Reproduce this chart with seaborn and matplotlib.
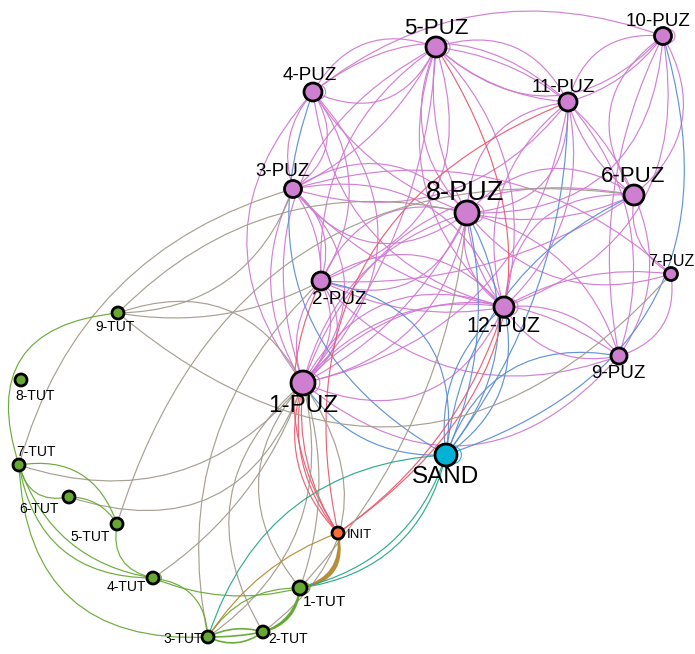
import matplotlib
matplotlib.use("Agg")
import matplotlib.pyplot as plt
from matplotlib.patches import FancyArrowPatch, Circle
import seaborn as sns
import pandas as pd

# ---------------- data ----------------
node_names = ["1-PUZ", "2-PUZ", "3-PUZ", "4-PUZ", "5-PUZ", "6-PUZ", "7-PUZ", "8-PUZ",
              "9-PUZ", "10-PUZ", "11-PUZ", "12-PUZ", "SAND", "INIT",
              "1-TUT", "2-TUT", "3-TUT", "4-TUT", "5-TUT", "6-TUT", "7-TUT", "8-TUT", "9-TUT"]
node_x = [303, 321, 293, 313, 436, 634, 671, 467, 619, 663, 568, 504, 446, 338,
          300, 263, 208, 153, 117, 69, 19, 21, 118]
node_y = [383, 281, 189, 92, 47, 195, 274, 213, 356, 36, 102, 307, 455, 533,
          588, 632, 637, 578, 524, 497, 465, 380, 313]
node_group = ["PUZ"] * 12 + ["SAND", "INIT"] + ["TUT"] * 9
node_weight = [12, 9, 8.5, 9, 10, 10, 6.5, 12, 8, 8.5, 9, 10, 11, 6,
               7, 6, 6, 6, 6, 6, 6, 6, 6]

edge_src = [
    # puzzle - puzzle
    "1-PUZ", "1-PUZ", "1-PUZ", "1-PUZ", "1-PUZ", "1-PUZ", "1-PUZ", "1-PUZ", "1-PUZ",
    "2-PUZ", "2-PUZ", "2-PUZ", "2-PUZ", "2-PUZ", "2-PUZ", "2-PUZ",
    "3-PUZ", "3-PUZ", "3-PUZ", "3-PUZ", "3-PUZ", "3-PUZ",
    "4-PUZ", "4-PUZ", "4-PUZ", "4-PUZ", "4-PUZ",
    "5-PUZ", "5-PUZ", "5-PUZ", "5-PUZ", "5-PUZ",
    "8-PUZ", "8-PUZ", "8-PUZ", "8-PUZ", "8-PUZ", "8-PUZ",
    "11-PUZ", "11-PUZ", "11-PUZ", "11-PUZ",
    "10-PUZ", "10-PUZ", "10-PUZ",
    "6-PUZ", "6-PUZ", "6-PUZ", "7-PUZ", "7-PUZ", "12-PUZ",
    # sandbox - puzzle
    "SAND", "SAND", "SAND", "SAND", "SAND", "SAND", "SAND", "SAND", "SAND",
    # init - puzzle
    "INIT", "INIT", "INIT", "INIT", "INIT",
    # tutorial - puzzle / sandbox
    "9-TUT", "9-TUT", "9-TUT", "9-TUT", "9-TUT", "7-TUT", "7-TUT", "6-TUT", "5-TUT",
    "4-TUT", "3-TUT", "3-TUT", "2-TUT", "1-TUT", "1-TUT", "1-TUT",
    # tutorial - tutorial
    "9-TUT", "7-TUT", "7-TUT", "7-TUT", "7-TUT", "6-TUT", "5-TUT", "4-TUT", "4-TUT",
    "3-TUT", "3-TUT", "2-TUT",
    # init - tutorial
    "INIT", "INIT",
    # sandbox - tutorial
    "SAND", "SAND",
]
edge_dst = [
    "2-PUZ", "3-PUZ", "4-PUZ", "5-PUZ", "8-PUZ", "11-PUZ", "12-PUZ", "9-PUZ", "6-PUZ",
    "3-PUZ", "4-PUZ", "5-PUZ", "8-PUZ", "12-PUZ", "6-PUZ", "9-PUZ",
    "4-PUZ", "8-PUZ", "12-PUZ", "5-PUZ", "11-PUZ", "7-PUZ",
    "5-PUZ", "11-PUZ", "8-PUZ", "12-PUZ", "10-PUZ",
    "10-PUZ", "11-PUZ", "8-PUZ", "12-PUZ", "6-PUZ",
    "11-PUZ", "6-PUZ", "12-PUZ", "7-PUZ", "9-PUZ", "10-PUZ",
    "10-PUZ", "6-PUZ", "12-PUZ", "9-PUZ",
    "6-PUZ", "12-PUZ", "9-PUZ",
    "7-PUZ", "9-PUZ", "12-PUZ", "9-PUZ", "12-PUZ", "9-PUZ",
    "1-PUZ", "2-PUZ", "4-PUZ", "8-PUZ", "12-PUZ", "6-PUZ", "10-PUZ", "9-PUZ", "11-PUZ",
    "1-PUZ", "2-PUZ", "5-PUZ", "11-PUZ", "12-PUZ",
    "3-PUZ", "8-PUZ", "7-PUZ", "1-PUZ", "2-PUZ", "1-PUZ", "3-PUZ", "1-PUZ", "6-PUZ",
    "1-PUZ", "1-PUZ", "2-PUZ", "1-PUZ", "1-PUZ", "8-PUZ", "SAND",
    "7-TUT", "6-TUT", "5-TUT", "4-TUT", "3-TUT", "5-TUT", "4-TUT", "3-TUT", "1-TUT",
    "2-TUT", "1-TUT", "1-TUT",
    "1-TUT", "3-TUT",
    "3-TUT", "1-TUT",
]
edge_mult = [
    3, 2, 2, 2, 3, 1, 3, 2, 1,
    2, 1, 2, 2, 2, 1, 1,
    2, 2, 2, 1, 1, 1,
    2, 1, 1, 1, 1,
    1, 2, 2, 2, 1,
    2, 2, 2, 1, 1, 1,
    2, 1, 2, 1,
    2, 1, 1,
    1, 1, 1, 1, 1, 2,
    1, 1, 1, 2, 2, 1, 1, 1, 1,
    3, 1, 1, 1, 1,
    1, 1, 1, 1, 1, 1, 1, 1, 1,
    1, 1, 1, 2, 2, 1, 1,
    1, 1, 1, 2, 1, 1, 1, 1, 1,
    3, 1, 3,
    4, 1,
    1, 1,
]
loop_nodes = ["8-PUZ", "12-PUZ", "10-PUZ", "5-PUZ", "4-PUZ", "1-PUZ", "SAND", "1-TUT", "4-TUT"]

# ---------------- style ----------------
node_colors = {"PUZ": "#cf7fcf", "TUT": "#66a832", "SAND": "#00b2d6", "INIT": "#ff6d3b"}
edge_colors = {
    ("PUZ", "PUZ"): "#d07ad2",
    ("PUZ", "SAND"): "#5a8ed6",
    ("INIT", "PUZ"): "#ea5b6e",
    ("PUZ", "TUT"): "#a39b8c",
    ("SAND", "TUT"): "#27a888",
    ("TUT", "TUT"): "#64a832",
    ("INIT", "TUT"): "#b58b34",
}
# (base curvature, spread between parallel arcs) for selected edges
bend_style = {
    ("9-TUT", "7-TUT"): (0.62, 0.0),
    ("7-TUT", "3-TUT"): (0.5, 0.0),
    ("7-TUT", "4-TUT"): (0.3, 0.12),
    ("INIT", "1-TUT"): (-0.45, -0.03),
    ("2-TUT", "1-TUT"): (0.3, 0.03),
    ("INIT", "1-PUZ"): (-0.18, -0.06),
    ("3-TUT", "2-TUT"): (0.3, -0.25),
}
label_style = {
    "1-PUZ": (303, 406, 17.5), "2-PUZ": (339, 299, 13.5), "3-PUZ": (283, 172, 13.5),
    "4-PUZ": (310, 76, 13.5), "5-PUZ": (436, 29, 16), "6-PUZ": (633, 177, 16),
    "7-PUZ": (671, 262, 11.5), "8-PUZ": (465, 193, 19.5), "9-PUZ": (618, 373, 13.5),
    "10-PUZ": (658, 21, 13.5), "11-PUZ": (563, 87, 13.5), "12-PUZ": (503, 327, 15.5),
    "SAND": (446, 477, 17.5), "INIT": (359, 535, 9.5),
    "1-TUT": (324, 602, 11), "2-TUT": (288, 639, 10), "3-TUT": (183, 639, 10),
    "4-TUT": (126, 587, 10), "5-TUT": (90, 537, 10), "6-TUT": (39, 509, 10),
    "7-TUT": (36, 452, 10), "8-TUT": (35, 396, 10), "9-TUT": (115, 327, 10),
}

sns.set_theme(style="white")
plt.rcParams["font.family"] = ["Liberation Sans", "DejaVu Sans"]

nodes = pd.DataFrame({"name": node_names, "x": node_x, "y": node_y,
                      "group": node_group, "weight": node_weight})
pos = {n: (x, y) for n, x, y in zip(node_names, node_x, node_y)}
grp = dict(zip(node_names, node_group))
rad_of = dict(zip(node_names, node_weight))

fig = plt.figure(figsize=(6.95, 6.54), dpi=100)
ax = fig.add_axes([0, 0, 1, 1])
ax.set_xlim(0, 695)
ax.set_ylim(654, 0)
ax.set_aspect("equal")
ax.axis("off")

rad_cycle = [0.34, -0.28, 0.48, -0.42, 0.17]
k = 0
for s, d, m in zip(edge_src, edge_dst, edge_mult):
    key = tuple(sorted((grp[s], grp[d])))
    col = edge_colors.get(key, "#aaaaaa")
    lw = 0.85
    if key in [("TUT", "TUT"), ("INIT", "TUT")] and m >= 3:
        lw = 1.2
    for j in range(m):
        if (s, d) in bend_style:
            base, spread = bend_style[(s, d)]
            r = base + j * spread
        else:
            r = rad_cycle[(k + j) % len(rad_cycle)]
        p = FancyArrowPatch(pos[s], pos[d], connectionstyle=f"arc3,rad={r}",
                            arrowstyle="-", color=col, lw=lw, alpha=0.95, zorder=1,
                            shrinkA=0, shrinkB=0)
        ax.add_patch(p)
    k += 1

for n in loop_nodes:
    x, y = pos[n]
    r = rad_of[n]
    col = {"PUZ": "#d07ad2", "SAND": "#1ab8d8", "TUT": "#64a832"}[grp[n]]
    ax.add_patch(Circle((x + r * 0.6, y), r * 0.8, fill=False, ec=col, lw=0.8, zorder=1))

# point area in pt^2 from radius in px (1 px = 0.72 pt at 100 dpi)
nodes["area"] = (2 * nodes["weight"] * 0.72) ** 2
sizes = {a: a for a in nodes["area"].unique()}
sns.scatterplot(data=nodes, x="x", y="y", hue="group", palette=node_colors,
                size="area", sizes=sizes, edgecolor="black", linewidth=2.0,
                legend=False, ax=ax, zorder=3)
ax.set_xlim(0, 695)
ax.set_ylim(654, 0)

for n in node_names:
    lx, ly, fs = label_style[n]
    ax.text(lx, ly, n, fontsize=fs, ha="center", va="center", color="black", zorder=4)

fig.savefig("out.png", dpi=100)
